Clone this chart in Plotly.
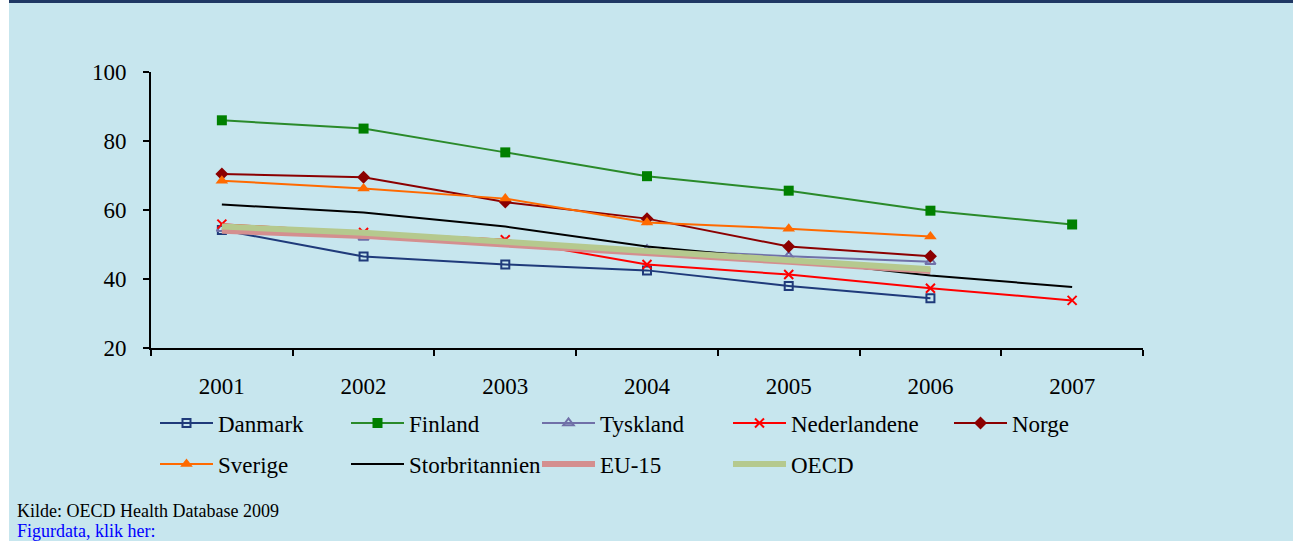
import plotly.graph_objects as go

years = ['2001', '2002', '2003', '2004', '2005', '2006', '2007']

danmark = [54.2, 46.5, 44.2, 42.5, 38.0, 34.4, None]
finland = [86.0, 83.6, 76.7, 69.8, 65.6, 59.8, 55.8]
tyskland = [54.6, 52.0, 50.5, 48.5, 46.6, 45.0, None]
nederlandene = [55.9, 53.5, 51.4, 44.2, 41.3, 37.3, 33.8]
norge = [70.4, 69.5, 62.3, 57.5, 49.4, 46.6, None]
sverige = [68.5, 66.2, 63.3, 56.4, 54.6, 52.3, None]
storbritannien = [61.6, 59.3, 55.2, 49.4, 45.6, 41.0, 37.7]
eu15 = [54.0, 52.5, 50.0, 47.6, 45.0, 42.3, None]
oecd = [55.2, 53.4, 50.8, 48.2, 45.5, 42.8, None]

serif = 'Liberation Serif, Times New Roman, serif'
bg = '#C7E6EE'

fig = go.Figure()

# (name, values, colour, symbol, marker size, line width, legend)
series = [
    ('Danmark', danmark, '#1F3A7A', 'square-open', 8, 2, 'legend'),
    ('Finland', finland, '#2A8A2A', 'square', 10, 2, 'legend'),
    ('Tyskland', tyskland, '#7070A8', 'triangle-up-open', 9, 2, 'legend'),
    ('Nederlandene', nederlandene, '#FF0000', 'x-thin', 9, 2, 'legend'),
    ('Norge', norge, '#8B0000', 'diamond', 10, 2, 'legend3'),
    ('Sverige', sverige, '#FF6A00', 'triangle-up', 11, 2, 'legend2'),
    ('Storbritannien', storbritannien, '#000000', None, 0, 2, 'legend2'),
    ('EU-15', eu15, '#D48F8F', None, 0, 6, 'legend2'),
    ('OECD', oecd, '#B5C98E', None, 0, 6, 'legend2'),
]

for name, vals, col, sym, size, lw, leg in series:
    if sym is None:
        fig.add_trace(go.Scatter(x=years, y=vals, name=name, mode='lines',
                                 line=dict(color=col, width=lw), legend=leg))
    else:
        mcol = '#008000' if name == 'Finland' else col
        fig.add_trace(go.Scatter(
            x=years, y=vals, name=name, mode='lines+markers',
            line=dict(color=col, width=lw),
            marker=dict(symbol=sym, size=size, color=mcol,
                        line=dict(color=mcol, width=2 if sym in ('x-thin', 'square-open', 'triangle-up-open') else 0)),
            legend=leg))

# plot area in pixels: x 151..1143, y 72..348
L, R, T, B = 151, 1143, 72, 348
W, H = R - L, B - T


def px_x(p):
    return (p - L) / W


def px_y(p):
    return (B - p) / H


leg_common = dict(orientation='h', xanchor='left', yanchor='middle',
                  bgcolor='rgba(0,0,0,0)', itemwidth=53,
                  entrywidth=123, entrywidthmode='pixels',
                  font=dict(family=serif, size=23, color='black'),
                  itemclick=False, itemdoubleclick=False)

fig.update_layout(
    width=1293, height=541,
    margin=dict(l=L, r=1293 - R, t=T, b=541 - B),
    paper_bgcolor=bg, plot_bgcolor=bg,
    font=dict(family=serif, color='black'),
    showlegend=True,
    legend=dict(leg_common, x=px_x(155), y=px_y(423)),
    legend3=dict(leg_common, x=px_x(949), y=px_y(423)),
    legend2=dict(leg_common, x=px_x(155), y=px_y(464)),
    xaxis=dict(type='category', range=[-0.5, 6.5], showgrid=False,
               showline=True, linecolor='black', linewidth=2,
               ticks='outside', tickson='boundaries', ticklen=6,
               tickcolor='black', tickwidth=2,
               ticklabelstandoff=16,
               tickfont=dict(family=serif, size=23, color='black')),
    yaxis=dict(range=[20, 100], dtick=20, showgrid=False, zeroline=False,
               showline=True, linecolor='black', linewidth=2,
               ticks='outside', ticklen=6, tickcolor='black', tickwidth=2,
               ticklabelstandoff=12,
               tickfont=dict(family=serif, size=23, color='black')),
    shapes=[
        dict(type='rect', xref='paper', yref='paper', x0=px_x(0), x1=px_x(9),
             y0=px_y(541), y1=px_y(0), fillcolor='white', line_width=0),
        dict(type='rect', xref='paper', yref='paper', x0=px_x(9), x1=px_x(1293),
             y0=px_y(3), y1=px_y(0), fillcolor='#1F3864', line_width=0),
    ],
    annotations=[
        dict(text='Kilde: OECD Health Database 2009', xref='paper', yref='paper',
             x=px_x(15), y=px_y(511), xanchor='left', yanchor='middle', showarrow=False,
             font=dict(family=serif, size=18, color='black')),
        dict(text='Figurdata, klik her:', xref='paper', yref='paper',
             x=px_x(15), y=px_y(531), xanchor='left', yanchor='middle', showarrow=False,
             font=dict(family=serif, size=18, color='#0000FF')),
    ],
)

# page body margin off so the figure fills the window
fig.write_html('out.html', config={'displayModeBar': False},
               post_script="document.body.style.margin='0';")
